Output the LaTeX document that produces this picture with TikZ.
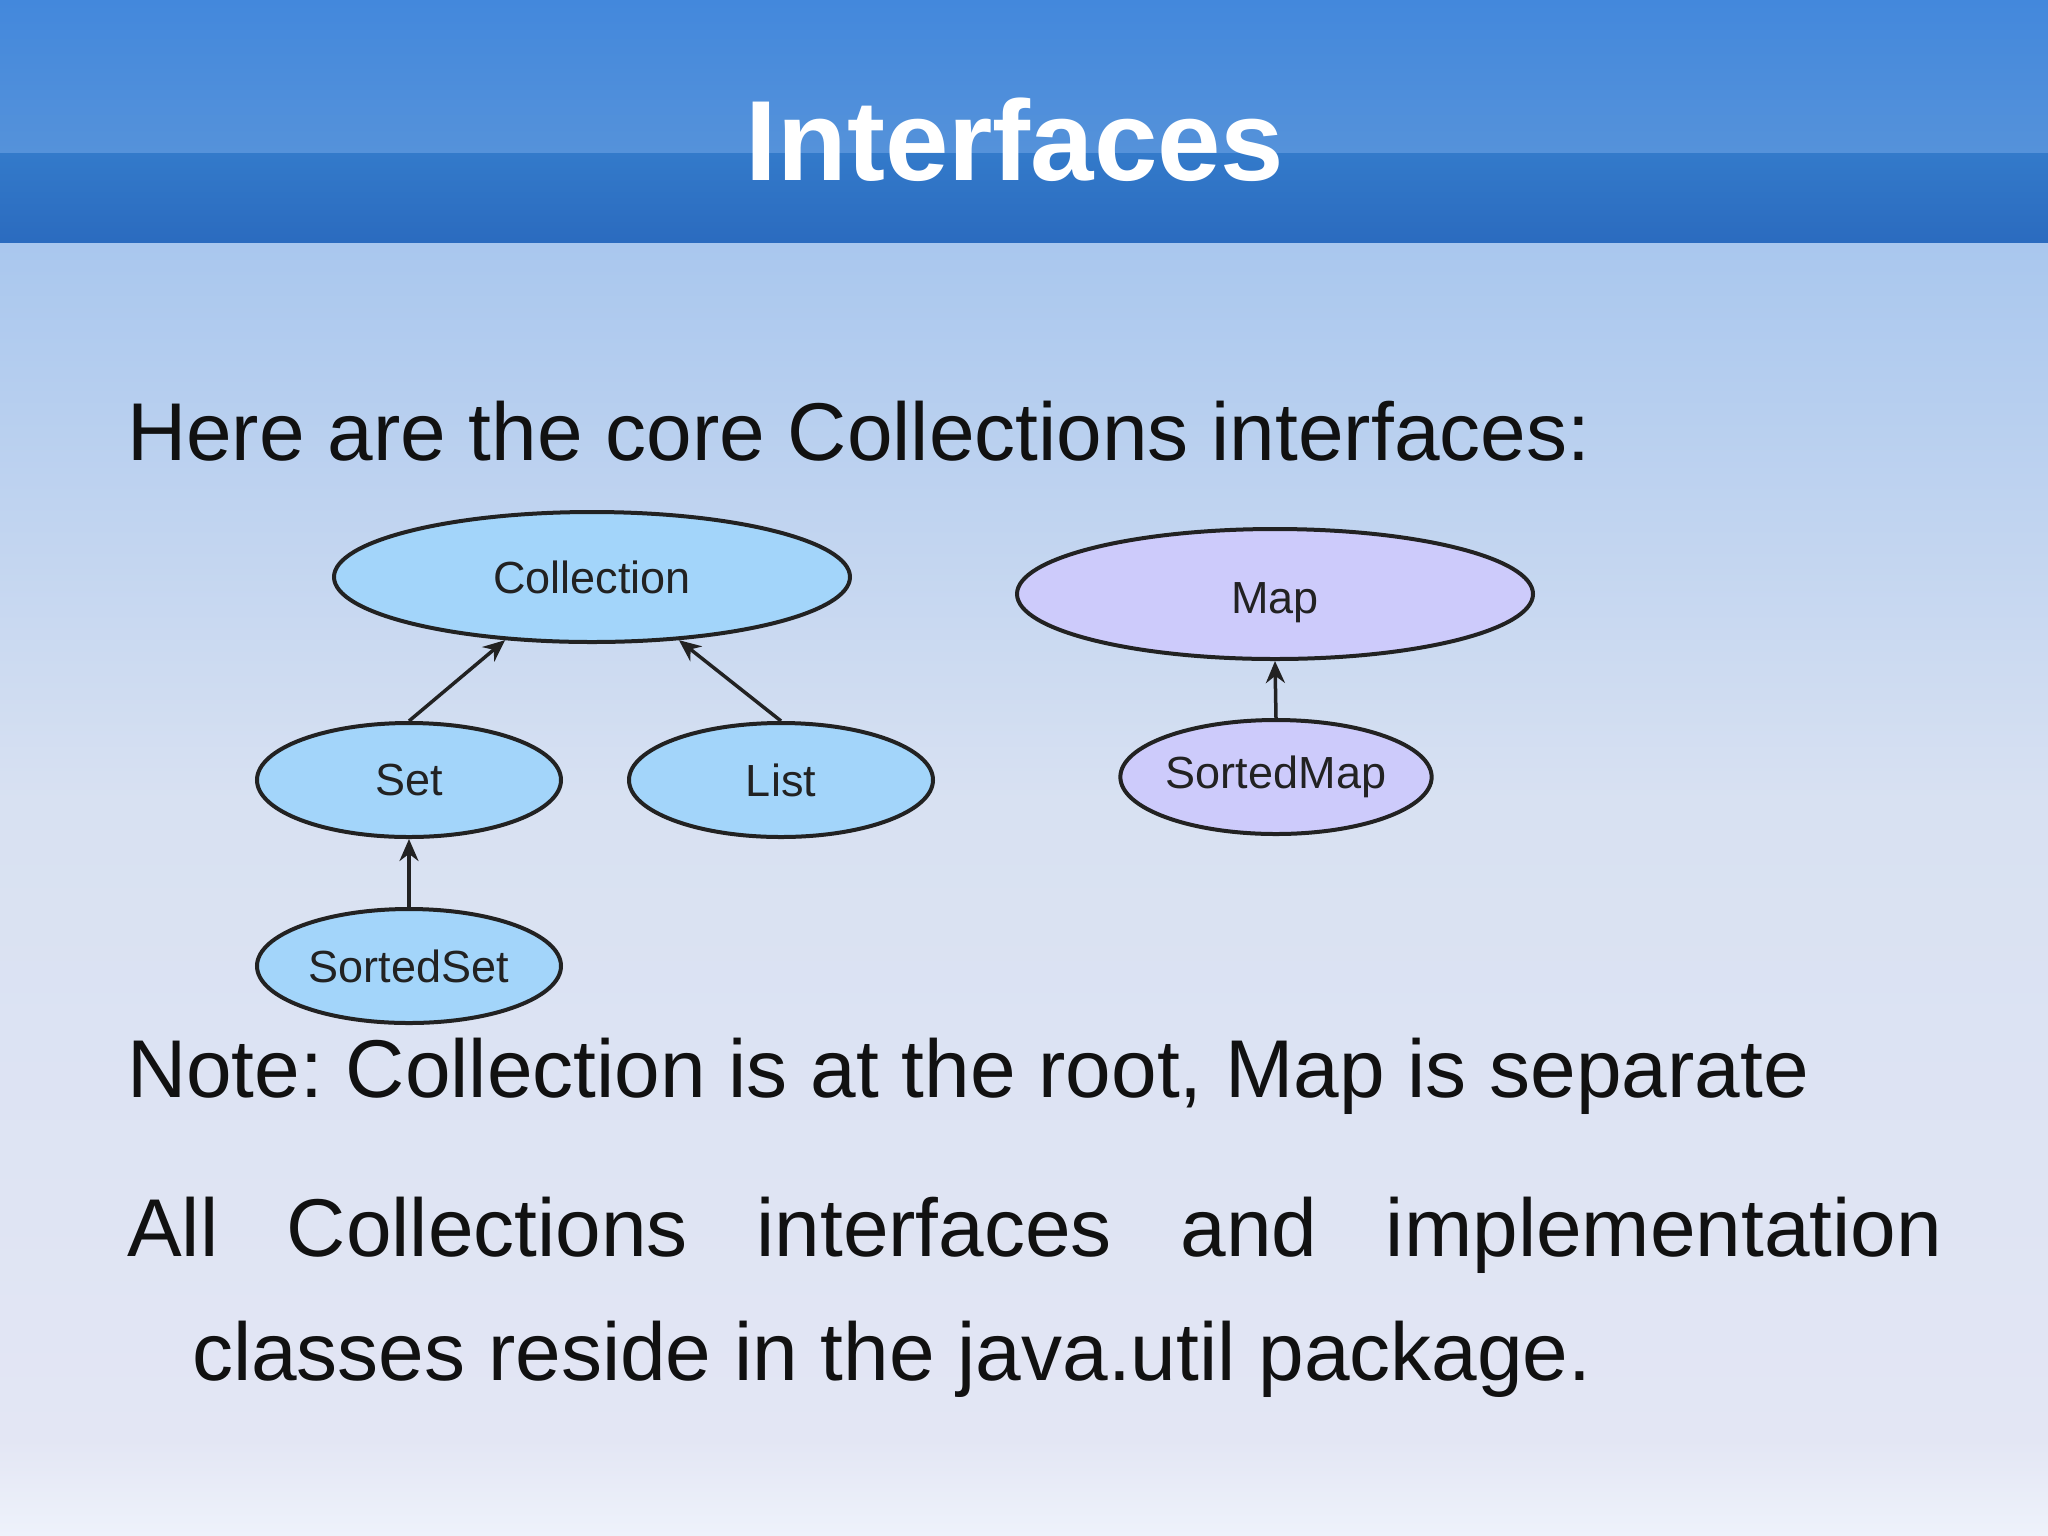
\documentclass[tikz,border=0pt]{standalone}
\usepackage{fontspec}
\setmainfont{Liberation Sans}
\frenchspacing
\usetikzlibrary{shapes.geometric,arrows.meta}
\definecolor{hdrA}{HTML}{4388DC}
\definecolor{hdrB}{HTML}{5592DA}
\definecolor{hdrC}{HTML}{337ACA}
\definecolor{hdrD}{HTML}{2B6BBF}
\definecolor{bodyA}{HTML}{A9C7EE}
\definecolor{bodyB}{HTML}{D8E1F2}
\definecolor{bodyC}{HTML}{E3E6F4}
\definecolor{bodyD}{HTML}{EEF2FB}
\definecolor{collfill}{HTML}{A3D5FA}
\definecolor{mapfill}{HTML}{CDCBFB}
\definecolor{edgecol}{HTML}{222222}
\definecolor{txtcol}{HTML}{111111}
\tikzset{
  iface/.style={ellipse, draw=edgecol, line width=4pt, inner sep=0pt,
    font=\fontsize{45}{54}\selectfont, text=edgecol},
  bigbox/.style={iface, minimum width=516pt, minimum height=130pt},
  smallbox/.style={iface, minimum width=304pt, minimum height=114pt},
  bluefill/.style={fill=collfill},
  violetfill/.style={fill=mapfill},
  isaedge/.style={draw=edgecol, line width=3.5pt, -{Stealth[length=22pt,width=19pt]}},
  body/.style={anchor=base west, inner sep=0pt, text=txtcol, font=\fontsize{82}{100}\selectfont}
}
\begin{document}
\begin{tikzpicture}[x=1pt,y=-1pt]
\useasboundingbox (0,0) rectangle (2048,1535);
% background
\shade[top color=bodyA, bottom color=bodyB] (0,242) rectangle (2048,800);
\shade[top color=bodyB, bottom color=bodyC] (0,800) rectangle (2048,1440);
\shade[top color=bodyC, bottom color=bodyD] (0,1440) rectangle (2048,1535);
\shade[top color=hdrA, bottom color=hdrB] (0,0) rectangle (2048,153);
\shade[top color=hdrC, bottom color=hdrD] (0,153) rectangle (2048,242);
% title
\node[anchor=base, inner sep=0pt, text=white, font=\fontsize{114}{130}\selectfont\bfseries] (title) at (1015,180) {Interfaces};
% texts
\node[body] (intro) at (127,460) {Here are the core Collections interfaces:};
\node[body] (note) at (127,1097) {Note: Collection is at the root, Map is separate};
\node[body] (all) at (127,1256) {\hbox to 1815pt{All\hfill Collections\hfill interfaces\hfill and\hfill implementation}};
\node[body] (pkg) at (192,1380) {classes reside in the java.util package.};
% diagram
\node[bigbox, bluefill] (coll) at (592,577) {Collection};
\node[smallbox, bluefill] (set) at (409,780) {Set};
\node[smallbox, bluefill] (list) at (781,780) {List};
\node[smallbox, bluefill] (sset) at (409,966) {SortedSet};
\node[bigbox, violetfill, text height=48pt, text depth=9.5pt] (map) at (1275,594) {Map};
\node[smallbox, violetfill] (smap) at (1276,777) {SortedMap};
\path[isaedge] (set.north) -- (coll.216);
\path[isaedge] (list.north) -- (coll.324);
\path[isaedge] (sset.north) -- (set.south);
\path[isaedge] (smap.north) -- (map.south);
\end{tikzpicture}
\end{document}
